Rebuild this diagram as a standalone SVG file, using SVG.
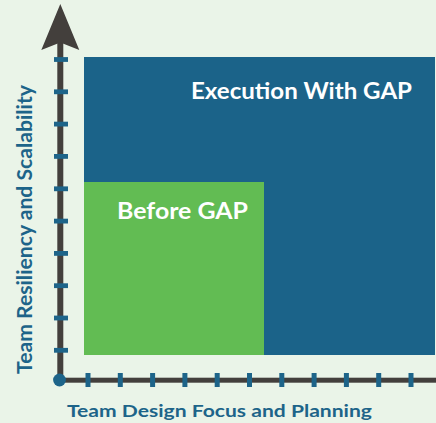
<svg xmlns="http://www.w3.org/2000/svg" width="436" height="423" viewBox="0 0 436 423">
  <style>
    .label { font-family: Lato, "Open Sans", "Liberation Sans", sans-serif; font-weight: 700; }
    .axis-label { fill: #1D6489; }
    .area-label { fill: #FFFFFF; }
    .axis { fill: #433F3C; }
    .tick { fill: #1D6489; }
  </style>
  <defs>
    <rect id="ytick" x="54" y="-2.4" width="14" height="4.8"/>
    <rect id="xtick" x="-2.5" y="373" width="5" height="14"/>
  </defs>

  <!-- background -->
  <rect width="436" height="423" fill="#EAF4E8"/>

  <!-- execution area -->
  <g id="execution-with-gap">
    <rect x="84" y="57" width="351" height="298" fill="#1B6389"/>
    <text class="label area-label" x="412" y="99" font-size="23.5" text-anchor="end" textLength="221" lengthAdjust="spacingAndGlyphs">Execution With GAP</text>
  </g>

  <!-- before area -->
  <g id="before-gap">
    <rect x="84" y="182" width="180" height="173" fill="#62BC53"/>
    <text class="label area-label" x="117" y="219.3" font-size="22" textLength="131" lengthAdjust="spacingAndGlyphs">Before GAP</text>
  </g>

  <!-- axes -->
  <g id="axes">
    <rect class="axis" x="57.3" y="40" width="6" height="340"/>
    <path class="axis" d="M60.3 4 L79.3 50 L60.3 42.5 L41.3 50 Z"/>
    <rect class="axis" x="59" y="377.7" width="377" height="5"/>
    <g class="tick">
      <use href="#ytick" y="59.5"/>
      <use href="#ytick" y="91.8"/>
      <use href="#ytick" y="124.1"/>
      <use href="#ytick" y="156.4"/>
      <use href="#ytick" y="188.8"/>
      <use href="#ytick" y="221.1"/>
      <use href="#ytick" y="253.4"/>
      <use href="#ytick" y="285.7"/>
      <use href="#ytick" y="318"/>
      <use href="#ytick" y="350.3"/>
      <use href="#xtick" x="88"/>
      <use href="#xtick" x="120.3"/>
      <use href="#xtick" x="152.6"/>
      <use href="#xtick" x="184.9"/>
      <use href="#xtick" x="217.2"/>
      <use href="#xtick" x="249.5"/>
      <use href="#xtick" x="281.8"/>
      <use href="#xtick" x="314.1"/>
      <use href="#xtick" x="346.4"/>
      <use href="#xtick" x="378.7"/>
      <use href="#xtick" x="411"/>
    </g>
    <circle class="tick" cx="59.5" cy="380" r="6.4"/>
  </g>

  <!-- axis titles -->
  <g id="x-axis-title">
    <text class="label axis-label" x="67" y="417" font-size="17" textLength="305" lengthAdjust="spacingAndGlyphs">Team Design Focus and Planning</text>
  </g>
  <g id="y-axis-title">
    <text class="label axis-label" transform="translate(32.3 374) rotate(-90)" x="0" y="0" font-size="20" textLength="289" lengthAdjust="spacingAndGlyphs">Team Resiliency and Scalability</text>
  </g>
</svg>
